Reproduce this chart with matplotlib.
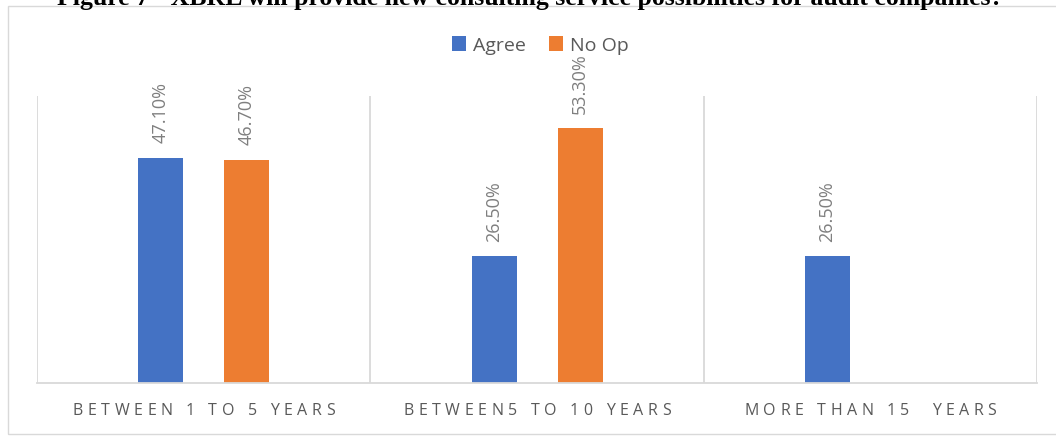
import matplotlib.pyplot as plt
import matplotlib.patches as patches
import numpy as np

categories = ["BETWEEN 1 TO 5 YEARS", "BETWEEN5 TO 10 YEARS", "MORE THAN 15  YEARS"]
agree = [47.1, 26.5, 26.5]
no_op = [46.7, 53.3, np.nan]
series_names = ["Agree", "No Op"]
title = "Figure 7 - XBRL will provide new consulting service possibilities for audit companies?"

W, H = 1056, 439
fig = plt.figure(figsize=(W / 100, H / 100), dpi=100)

# outer chart border
fig.patches.append(patches.Rectangle((8 / W, 4 / H), 1.2, (H - 7 - 4) / H,
                                     transform=fig.transFigure, fill=False,
                                     edgecolor="#d9d9d9", linewidth=1.0))

# title, partly cut off at the top like in the source
fig.text(530 / W, 1 - 5 / H, title, ha="center", va="baseline",
         fontsize=18.5, fontweight="bold", family="Liberation Serif")

ax = fig.add_axes([37 / W, (H - 384) / H, 1000 / W, 287 / H])
x = np.arange(len(categories))
w = 0.135
off = 0.129
b1 = ax.bar(x - off, agree, w, color="#4472C4", label=series_names[0])
b2 = ax.bar(x + off, no_op, w, color="#ED7D31", label=series_names[1])

for bars, vals in [(b1, agree), (b2, no_op)]:
    for rect, v in zip(bars, vals):
        if np.isnan(v):
            continue
        ax.annotate(f"{v:.2f}%", (rect.get_x() + rect.get_width() / 2, v),
                    xytext=(0, 11), textcoords="offset points",
                    rotation=90, ha="center", va="bottom",
                    fontsize=13, color="#7f7f7f", family="Open Sans")

ax.set_xlim(-0.5, 2.5)
ax.set_ylim(0, 60)
for xv in [-0.5, 0.5, 1.5, 2.5]:
    ax.axvline(xv, color="#d9d9d9", linewidth=1.3, zorder=0)
for s in ["top", "left", "right"]:
    ax.spines[s].set_visible(False)
ax.spines["bottom"].set_color("#d9d9d9")
ax.spines["bottom"].set_linewidth(1.3)
ax.set_yticks([])
ax.set_xticks([])

# category labels with wide letter spacing, like the Excel axis
renderer = fig.canvas.get_renderer()
lab_kw = dict(fontsize=11.5, color="#595959", family="Open Sans")
tracking = 4.6  # extra px between letters


def text_width(s):
    t = fig.text(0, 0, s + "I", **lab_kw)
    t2 = fig.text(0, 0, "I", **lab_kw)
    wd = t.get_window_extent(renderer).width - t2.get_window_extent(renderer).width
    t.remove()
    t2.remove()
    return wd


y_lab = 1 - 411 / H
for i, lab in enumerate(categories):
    cx = ax.transData.transform((x[i], 0))[0]
    total = text_width(lab) + tracking * (len(lab) - 1)
    left = cx - total / 2
    for j, ch in enumerate(lab):
        if ch == " ":
            continue
        px = left + text_width(lab[:j]) + tracking * j
        fig.text(px / W, y_lab, ch, ha="left", va="center", **lab_kw)

ax.legend(loc="center", bbox_to_anchor=(0.5035, (H - 46 - (H - 384)) / 287),
          ncol=2, frameon=False, handlelength=0.72, handleheight=0.8,
          handletextpad=0.35, columnspacing=1.2,
          prop={"family": "Open Sans", "size": 14}, labelcolor="#595959")

fig.savefig("out.png", dpi=100)
